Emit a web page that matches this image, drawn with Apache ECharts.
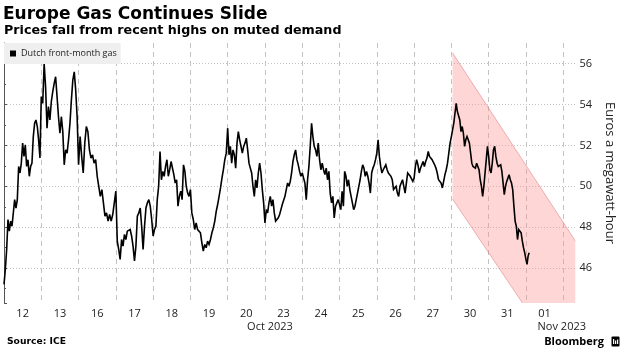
<!DOCTYPE html>
<html><head><meta charset="utf-8">
<script src="https://cdn.jsdelivr.net/npm/echarts@6/dist/echarts.min.js"></script>
<style>html,body{margin:0;padding:0;background:#fff}#c{width:624px;height:357px}</style>
</head><body><div id="c"></div>
<script>
// ---- data (euros per MWh, intraday samples per trading day) ----
const dayLabels = ['12','13','16','17','18','19','20','23','24','25','26','27','30','31','01'];
const oct12 = [45.21,45.94,46.92,48.38,47.81,48.30,48.05,48.70,49.35,48.94,49.35,50.97,50.65,51.13,52.11,51.46,52.03,50.97,51.30,50.49,50.97,51.13,52.43,53.08,53.24,52.92,52.27,51.38];
const oct13 = [54.38,54.05,56.00,54.86,52.84,53.89,53.24,54.13,54.62,55.03,55.35,54.38,53.40,52.59,53.40,52.67,51.05,51.78,51.62,52.27,53.08,54.22,55.19,55.59,54.70,53.40];
const oct16 = [51.05,52.43,51.46,50.65,52.11,52.92,52.67,51.78,51.38,51.54,51.13,51.30,50.49,50.00,49.51,49.84,49.19,48.54,48.70,48.30,48.62,48.30,48.62,48.62];
const oct17 = [49.76,47.32,46.92,46.43,47.40,47.08,47.65,47.40,47.81,47.73,47.89,47.57,47.08,46.35,47.08,48.54,48.70,48.94,48.05,46.92,48.05,48.94,49.19,49.35,49.03,48.38];
const oct18 = [47.57,47.89,48.05,49.35,50.00,51.70,50.32,50.73,50.49,50.97,51.30,50.49,50.81,51.21,51.13,50.57,50.16,50.32,49.03,49.51,49.76,49.35,51.05,50.73,50.00,49.67,49.51];
const oct19 = [49.84,48.70,48.38,47.89,48.21,47.89,47.81,47.73,47.24,46.84,47.16,47.00,47.32,47.16,47.40,47.73,47.97,48.30,48.78,49.11,49.51,49.92,50.40,50.81,51.30,51.62];
const oct20 = [52.84,51.54,51.95,51.13,51.78,51.54,50.89,52.11,52.67,52.27,51.95,51.62,51.95,52.11,52.35,51.78,51.13,50.89,50.65,50.00,49.51,50.32,49.92,50.65,51.13,50.65,49.84,49.19];
const oct23 = [48.21,48.86,48.70,49.19,49.51,49.03,49.35,48.70,48.30,48.38,48.46,48.62,48.86,49.11,49.19,49.51,49.84,50.16,50.00,50.24,50.65,51.21,51.54,51.78,51.30,51.05,50.73,50.49];
const oct24 = [50.65,50.73,50.16,49.35,50.32,50.97,51.95,53.08,52.43,51.95,51.78,51.46,52.11,51.30,50.81,51.13,50.81,50.57,50.89,50.32,50.73,49.67,49.19,49.51,48.46,49.03,49.19,49.35];
const oct25 = [49.35,48.86,49.76,49.03,50.73,50.49,50.00,50.32,49.84,49.51,49.19,48.86,49.03,49.35,49.67,50.00,50.32,50.73,51.05,50.89,50.49,50.73,50.49,50.16,49.67,50.65,50.89,51.05,51.30];
const oct26 = [51.62,52.27,51.46,50.97,50.65,50.81,50.73,51.05,50.81,50.65,50.65,50.49,50.32,49.84,49.76,50.00,49.67,49.51,50.00,50.16,50.32,50.00,49.67,50.16,50.65,50.73,50.49,50.57,50.24];
const oct27 = [50.40,50.97,51.30,51.05,50.65,50.89,51.05,51.21,50.97,51.21,51.38,51.70,51.46,51.46,51.30,51.21,51.05,50.89,50.65,50.32,50.24,50.16,49.92,49.84,50.57,50.81,51.13,51.62,52.11];
const oct30 = [52.43,52.76,53.08,53.57,54.05,53.65,53.73,53.24,52.67,52.92,52.59,51.95,52.27,52.43,52.27,52.11,51.62,51.13,50.97,51.05,50.89,51.13,50.97,50.81,50.32,50.00,49.51,50.00,50.65,51.30,51.95];
const oct31 = [51.46,50.81,50.65,51.13,51.78,51.95,51.46,51.13,50.97,50.89,51.05,50.73,50.81,49.59,50.00,50.24,50.40,50.57,50.32,50.16,49.84,49.03,48.30,48.05,47.40,47.89,47.97,47.73,47.32,47.00,46.75];
const nov01 = [46.43,46.19,46.59,46.75];
const lastDayCoverage = 0.087;           // share of the Nov 01 session covered
const bandX = [12.03, 15.33];            // downward channel (day units)
const bandUpper = [56.52, 47.32];
const bandLower = [49.38, 40.45];
const yMin = 44.3, yMax = 57, xMax = 15.33;
const seriesName = 'Dutch front-month gas';

const days = [oct12,oct13,oct16,oct17,oct18,oct19,oct20,oct23,oct24,oct25,oct26,oct27,oct30,oct31,nov01];
const lineData = [];
days.forEach((vals, i) => {
  const n = vals.length, partial = i === days.length - 1;
  vals.forEach((v, k) => lineData.push([i + (partial ? lastDayCoverage * k / (n - 1) : k / n), v]));
});

const chart = echarts.init(document.getElementById('c'), null, {renderer: 'canvas'});
const labelFont = 'Open Sans';
chart.setOption({
  animation: false,
  backgroundColor: '#fff',
  grid: {left: 4, right: 37.3, top: 43, bottom: 54, containLabel: false},
  legend: {
    show: true, left: 4, top: 43, padding: [6, 4, 6, 6], backgroundColor: '#efefef',
    itemWidth: 6, itemHeight: 6, icon: 'rect', selectedMode: false,
    data: [seriesName], itemStyle: {color: '#000'},
    textStyle: {fontFamily: labelFont, fontSize: 9, color: '#222'}
  },
  xAxis: [
    {type: 'value', min: 0, max: xMax, interval: 1, position: 'bottom',
     axisLine: {show: false}, axisTick: {show: false}, axisLabel: {show: false},
     splitLine: {show: true, showMinLine: true, showMaxLine: false,
       lineStyle: {color: '#c4c4c4', type: [5, 4], width: 1}}},
    {type: 'value', min: 0, max: xMax, interval: 0.5, position: 'bottom',
     axisLine: {show: false}, axisTick: {show: false}, splitLine: {show: false},
     axisLabel: {margin: 5, fontFamily: labelFont, fontSize: 11, color: '#222',
       formatter: v => { const i = v - 0.5; return (Number.isInteger(i) && i >= 0 && i < dayLabels.length) ? dayLabels[i] : ''; }}}
  ],
  yAxis: {
    type: 'value', position: 'right', min: yMin, max: yMax, splitNumber: 6,
    axisLine: {show: true, lineStyle: {color: '#555', width: 1}},
    axisTick: {show: true, inside: false, length: 3, lineStyle: {color: '#555'}},
    minorTick: {show: true, splitNumber: 2, length: 2, lineStyle: {color: '#555'}},
    axisLabel: {margin: 4, fontFamily: labelFont, fontSize: 11, color: '#222', showMinLabel: false, showMaxLabel: false},
    splitLine: {show: true, showMinLine: false, showMaxLine: false, lineStyle: {color: '#c4c4c4', type: [1, 2]}},
    name: 'Euros a megawatt-hour', nameLocation: 'middle', nameRotate: -90, nameGap: 22,
    nameTextStyle: {fontFamily: labelFont, fontSize: 13, color: '#222'}
  },
  series: [
    {type: 'custom', xAxisIndex: 0, yAxisIndex: 0, silent: true, z: 1,
     data: [[bandX[0], bandUpper[0]]],
     renderItem: (params, api) => {
       const a = api.coord([bandX[0], bandUpper[0]]), b = api.coord([bandX[1], bandUpper[1]]);
       const c = api.coord([bandX[1], bandLower[1]]), d = api.coord([bandX[0], bandLower[0]]);
       const cs = params.coordSys;
       return {type: 'group',
         clipPath: {type: 'rect', shape: {x: cs.x, y: cs.y, width: cs.width, height: cs.height}},
         children: [
          {type: 'polygon', shape: {points: [a, b, c, d]}, style: {fill: 'rgba(255,140,140,0.36)'}},
          {type: 'polyline', shape: {points: [a, b]}, style: {fill: null, stroke: 'rgba(215,90,90,0.7)', lineWidth: 0.6}},
          {type: 'polyline', shape: {points: [d, c]}, style: {fill: null, stroke: 'rgba(215,90,90,0.7)', lineWidth: 0.6}}
         ]};
     }},
    {type: 'line', name: seriesName, xAxisIndex: 0, yAxisIndex: 0, data: lineData,
     showSymbol: false, symbol: 'none', z: 3,
     lineStyle: {color: '#000', width: 1.6, join: 'miter', miterLimit: 3}, itemStyle: {color: '#000'}}
  ],
  graphic: [
    {type: 'text', left: 3, top: 6, style: {text: 'Europe Gas Continues Slide', font: 'bold 17px "DejaVu Sans"', fill: '#000'}},
    {type: 'text', left: 4, top: 24, style: {text: 'Prices fall from recent highs on muted demand', font: 'bold 12.7px "DejaVu Sans"', fill: '#000'}},
    {type: 'text', x: 270, y: 327, style: {text: 'Oct 2023', font: '11px "Open Sans"', fill: '#222', align: 'center', verticalAlign: 'middle'}},
    {type: 'text', x: 586, y: 327, style: {text: 'Nov 2023', font: '11px "Open Sans"', fill: '#222', align: 'right', verticalAlign: 'middle'}},
    {type: 'text', x: 7, y: 341.5, style: {text: 'Source: ICE', font: 'bold 9.2px "DejaVu Sans"', fill: '#000', align: 'left', verticalAlign: 'middle'}},
    {type: 'text', x: 604, y: 342, style: {text: 'Bloomberg', font: 'bold 11px "Open Sans"', fill: '#000', align: 'right', verticalAlign: 'middle'}},
    {type: 'group', children: [
      {type: 'rect', shape: {x: 611.5, y: 336.5, width: 8, height: 10, r: 1}, style: {fill: '#000'}},
      {type: 'rect', shape: {x: 613, y: 339, width: 1.2, height: 5}, style: {fill: '#fff'}},
      {type: 'rect', shape: {x: 615, y: 340.5, width: 1.2, height: 3.5}, style: {fill: '#fff'}},
      {type: 'rect', shape: {x: 617, y: 339.5, width: 1.2, height: 4.5}, style: {fill: '#fff'}}
    ]}
  ]
});
</script></body></html>
